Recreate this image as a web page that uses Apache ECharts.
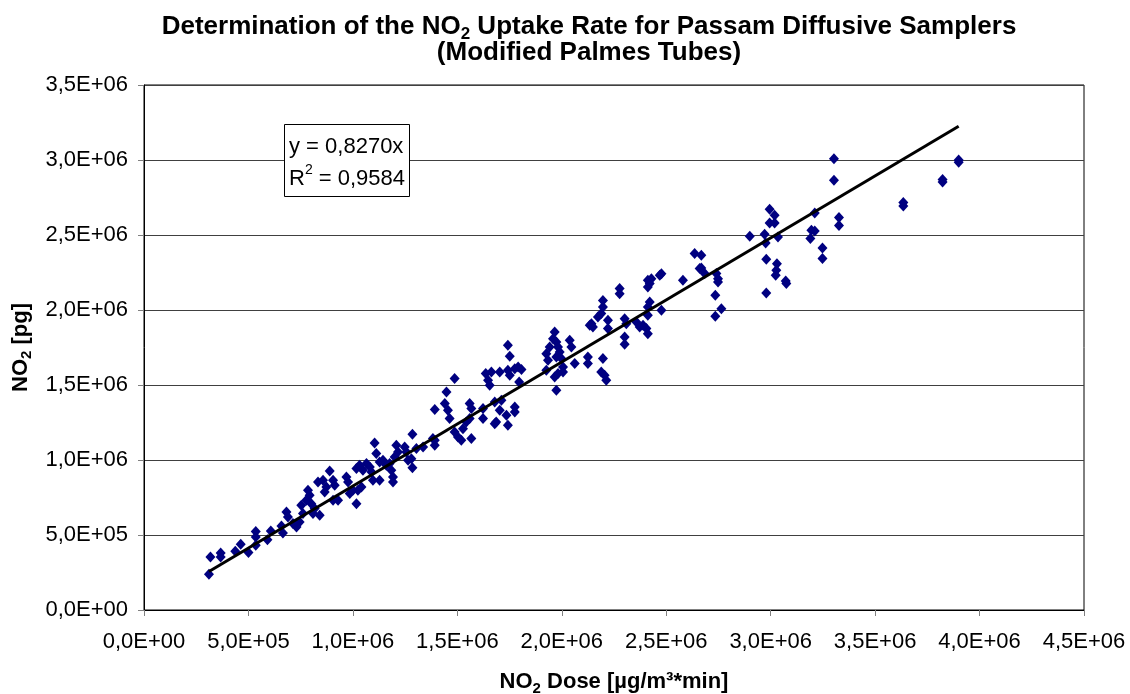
<!DOCTYPE html>
<html>
<head>
<meta charset="utf-8">
<title>NO2 Uptake Rate</title>
<script src="https://cdn.jsdelivr.net/npm/echarts@6/dist/echarts.min.js"></script>
<style>
    html, body { margin: 0; padding: 0; background: #fff; }
    #chart { width: 1130px; height: 694px; }
</style>
</head>
<body>
<div id="chart"></div>
<script>
// NO2 dose [µg/m³*min], in thousands
var doseK = [
    311, 318, 367, 367, 437, 463, 500, 535, 535, 535, 591, 607, 658, 665, 682, 689, 713, 730, 745, 753,
    761, 785, 793, 777, 801, 809, 841, 817, 833, 857, 873, 865, 889, 905, 913, 905, 929, 969, 977, 985,
    1000, 1017, 1024, 1041, 1017, 1032, 1048, 1065, 1081, 1089, 1096, 1104, 1112, 1128, 1128, 1144, 1160, 1176, 1184, 1192,
    1192, 1200, 1208, 1216, 1248, 1256, 1264, 1280, 1285, 1285, 1304, 1336, 1392, 1392, 1392, 1383, 1448, 1440, 1455, 1463,
    1487, 1487, 1503, 1519, 1527, 1543, 1559, 1567, 1559, 1567, 1623, 1623, 1636, 1647, 1655, 1663, 1679, 1686, 1679, 1703,
    1711, 1703, 1742, 1751, 1742, 1751, 1735, 1742, 1775, 1775, 1775, 1791, 1807, 1796, 1926, 1934, 1926, 1942, 1958, 1966,
    1974, 1982, 1990, 1974, 1966, 1974, 1982, 1998, 2006, 2006, 2038, 2046, 2062, 2125, 2125, 2134, 2142, 2149, 2173, 2189,
    2197, 2197, 2197, 2189, 2205, 2213, 2221, 2221, 2277, 2277, 2301, 2309, 2301, 2301, 2357, 2373, 2389, 2405, 2412, 2412,
    2421, 2412, 2412, 2429, 2412, 2421, 2469, 2477, 2477, 2580, 2636, 2660, 2668, 2668, 2684, 2740, 2748, 2748, 2735, 2764,
    2735, 2900, 2971, 2976, 2979, 2979, 2995, 3019, 2995, 3019, 3035, 3030, 3027, 3024, 3072, 3075, 3211, 3195, 3211, 3190,
    3248, 3248, 3303, 3303, 3327, 3327, 3635, 3635, 3823, 3823, 3900, 3900
];
// NO2 mass [pg], in thousands
var massK = [
    238, 353, 380, 353, 391, 438, 383, 523, 487, 431, 469, 527, 560, 513, 653, 620, 576, 553, 587, 698,
    643, 798, 765, 731, 709, 643, 631, 676, 853, 865, 820, 787, 927, 865, 831, 731, 731, 887, 853, 776,
    798, 709, 798, 820, 943, 965, 931, 976, 953, 920, 865, 1113, 1043, 987, 865, 998, 965, 976, 931, 887,
    853, 1020, 1098, 1053, 1087, 1053, 998, 1009, 949, 1171, 1076, 1087, 1131, 1098, 1336, 1143, 1453, 1376, 1331, 1276,
    1543, 1187, 1153, 1131, 1209, 1253, 1276, 1143, 1376, 1343, 1276, 1343, 1576, 1531, 1498, 1587, 1387, 1253, 1242, 1587,
    1398, 1331, 1765, 1691, 1598, 1565, 1298, 1231, 1353, 1320, 1609, 1620, 1603, 1520, 1709, 1665, 1598, 1753, 1809, 1853,
    1787, 1753, 1720, 1687, 1553, 1465, 1576, 1676, 1620, 1587, 1798, 1753, 1643, 1687, 1643, 1898, 1909, 1887, 1953, 1976,
    2020, 2064, 1676, 1587, 1565, 1531, 1931, 1876, 2143, 2109, 1942, 1909, 1820, 1771, 1920, 1887, 1898, 1876, 1842, 2020,
    2053, 1965, 2198, 2209, 2153, 2176, 2231, 2242, 1998, 2198, 2376, 2276, 2365, 2280, 2243, 2243, 2209, 2187, 2098, 2009,
    1958, 2491, 2505, 2447, 2338, 2113, 2671, 2631, 2580, 2580, 2487, 2309, 2265, 2231, 2193, 2176, 2647, 2531, 2527, 2476,
    2413, 2343, 3009, 2865, 2616, 2563, 2716, 2693, 2870, 2853, 3000, 2985
];
var slope = 0.8270;
var rSquared = '0,9584';
var xTicks = { min: 0, max: 4500000, step: 500000 };
var yTicks = { min: 0, max: 3500000, step: 500000 };

var points = [];
for (var i = 0; i < doseK.length; i++) {
    points.push([doseK[i] * 1000, massK[i] * 1000]);
}
var xStart = Math.min.apply(null, doseK) * 1000;
var xEnd = Math.max.apply(null, doseK) * 1000;
var trend = [[xStart, slope * xStart], [xEnd, slope * xEnd]];

// 3500000 -> "3,5E+06"
function sci(v) {
    if (v === 0) return '0,0E+00';
    var e = Math.floor(Math.log10(Math.abs(v)) + 1e-9);
    var m = v / Math.pow(10, e);
    return m.toFixed(1).replace('.', ',') + 'E+' + (e < 10 ? '0' : '') + e;
}

var font = 'Liberation Sans, Arial, sans-serif';

// rich styles for bold text with a lowered "2"
function boldRich(size, subSize, lh, drop) {
    return {
        n: { fontFamily: font, fontSize: size, fontWeight: 'bold', color: '#000', lineHeight: lh },
        s: { fontFamily: font, fontSize: subSize, fontWeight: 'bold', color: '#000', lineHeight: 8,
             verticalAlign: 'top', padding: [drop, 0, 0, 0] }
    };
}

var myChart = echarts.init(document.getElementById('chart'));
myChart.setOption({
    backgroundColor: '#fff',
    animation: false,
    title: [{
        text: '{n|Determination of the NO}{s|2}{n| Uptake Rate for Passam Diffusive Samplers}\n{n|(Modified Palmes Tubes)}',
        left: 584,
        top: 9,
        textAlign: 'center',
        textStyle: { rich: boldRich(26, 17, 26, 12) }
    }, {
        text: '{t|y = 0,' + slope.toFixed(4).split('.')[1] + 'x}\n{t|R}{p|2}{t| = ' + rSquared + '}',
        left: 284,
        top: 119,
        padding: [12, 5, 7, 5],
        backgroundColor: '#fff',
        borderColor: '#000',
        borderWidth: 1,
        textStyle: {
            fontWeight: 'normal',
            rich: {
                t: { fontFamily: font, fontSize: 22, fontWeight: 'normal', color: '#000', lineHeight: 32 },
                p: { fontFamily: font, fontSize: 14, fontWeight: 'normal', color: '#000', lineHeight: 22, verticalAlign: 'top' }
            }
        }
    }],
    grid: {
        left: 144,
        right: 46,
        top: 85,
        bottom: 84,
        outerBoundsMode: 'none',
        show: true,
        borderColor: '#000',
        borderWidth: 1
    },
    xAxis: {
        type: 'value',
        min: xTicks.min,
        max: xTicks.max,
        interval: xTicks.step,
        name: '{n|NO}{s|2}{n| Dose [µg/m³*min]}',
        nameLocation: 'middle',
        nameGap: 60,
        nameTextStyle: { rich: boldRich(22, 15, 24, 11) },
        axisLine: { show: true, onZero: false, lineStyle: { color: '#000', width: 1 } },
        axisTick: { show: true, length: 6, lineStyle: { color: '#808080' } },
        axisLabel: { margin: 21, fontFamily: font, fontSize: 22, color: '#000', formatter: sci },
        splitLine: { show: false }
    },
    yAxis: {
        type: 'value',
        min: yTicks.min,
        max: yTicks.max,
        interval: yTicks.step,
        name: '{n|NO}{s|2}{n| [pg]}',
        nameLocation: 'middle',
        nameGap: 110,
        nameTextStyle: { rich: boldRich(22, 15, 24, 11) },
        axisLine: { show: true, onZero: false, lineStyle: { color: '#000', width: 1 } },
        axisTick: { show: true, length: 6, lineStyle: { color: '#808080' } },
        axisLabel: { margin: 16, fontFamily: font, fontSize: 22, color: '#000', formatter: sci },
        splitLine: { show: true, lineStyle: { color: '#404040', width: 1 } }
    },
    series: [{
        name: 'samples',
        type: 'scatter',
        symbol: 'diamond',
        symbolSize: [10, 11],
        itemStyle: { color: '#000080', opacity: 1 },
        data: points,
        z: 2
    }, {
        name: 'trend',
        type: 'line',
        data: trend,
        symbol: 'none',
        silent: true,
        lineStyle: { color: '#000', width: 3 },
        z: 3
    }]
});
</script>
</body>
</html>
